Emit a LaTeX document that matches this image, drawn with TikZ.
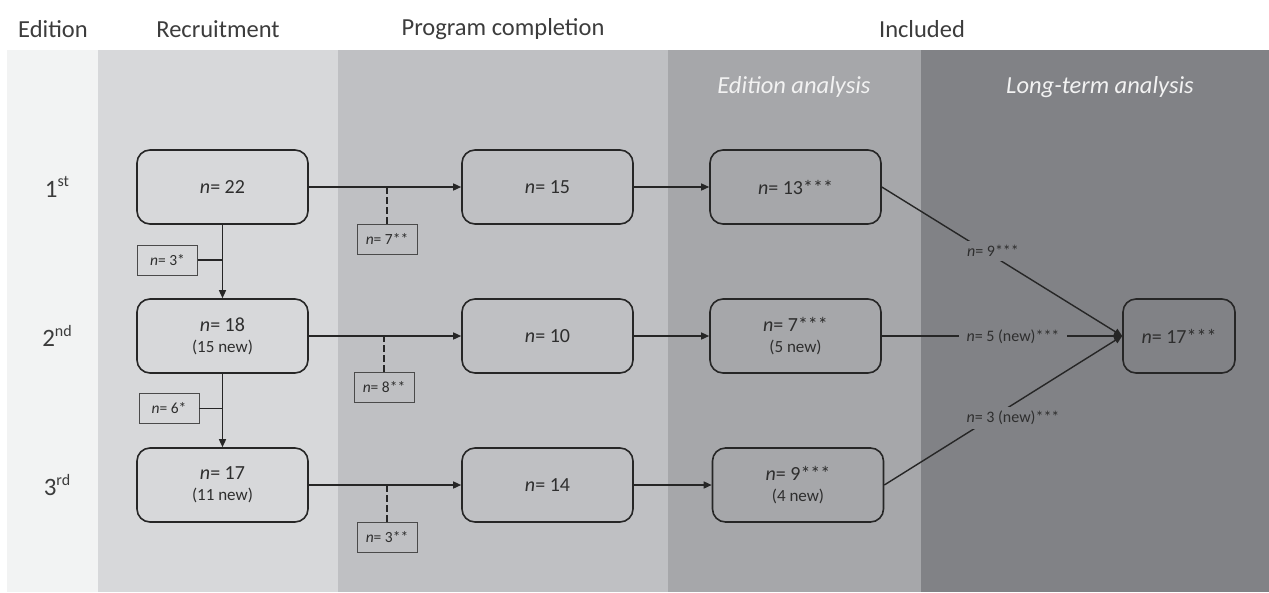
\documentclass[tikz,border=0pt]{standalone}
\usepackage{fontspec}
\setmainfont{Carlito}
\usetikzlibrary{arrows.meta}
\definecolor{pA}{HTML}{F2F3F3}
\definecolor{pB}{HTML}{D7D8DA}
\definecolor{pC}{HTML}{BFC0C3}
\definecolor{pD}{HTML}{A6A7AA}
\definecolor{pE}{HTML}{818286}
\definecolor{txt}{HTML}{2E2E2E}
\definecolor{hdr}{HTML}{3C3C3C}
\definecolor{linec}{HTML}{262626}
\definecolor{thin}{HTML}{4A4A4A}
\newcommand{\supx}[1]{\raisebox{0.42em}{\fontsize{16}{16}\selectfont #1}}
\begin{document}
\begin{tikzpicture}[x=1pt,y=-1pt,
  bigbox/.style={draw=linec, line width=1.6pt, rounded corners=13pt, minimum width=171pt, minimum height=74pt, align=center, text=txt, inner sep=0pt, font=\fontsize{20}{21}\selectfont},
  endbox/.style={bigbox, minimum width=112pt},
  smallbox/.style={draw=thin, line width=0.9pt, minimum width=60pt, minimum height=30pt, inner sep=0pt, text=txt, font=\fontsize{15.5}{17}\selectfont},
  hdrtext/.style={text=hdr, font=\fontsize{24.5}{26}\selectfont},
  ithdr/.style={text=white!95!black, font=\fontsize{24.5}{26}\selectfont\itshape},
  rowlab/.style={text=hdr, font=\fontsize{25}{27}\selectfont},
  ltlab/.style={fill=pE, text=txt, inner xsep=5pt, inner ysep=4pt, font=\fontsize{16}{17}\selectfont},
  conn/.style={draw=linec, line width=1.4pt},
  arr/.style={conn, -{Triangle[length=8pt,width=7pt]}},
  dashline/.style={draw=linec, line width=1.2pt, dash pattern=on 7pt off 3pt},
  tick/.style={draw=linec, line width=1.2pt}
]
\useasboundingbox (0,0) rectangle (1269,592);
\fill[white] (0,0) rectangle (1269,592);
% panels
\fill[pA] (7,50) rectangle (98,592);
\fill[pB] (98,50) rectangle (338,592);
\fill[pC] (338,50) rectangle (668,592);
\fill[pD] (668,50) rectangle (921,592);
\fill[pE] (921,50) rectangle (1269,592);
% headers
\node[hdrtext] (hEd) at (53,29) {Edition};
\node[hdrtext] (hRec) at (218,29) {Recruitment};
\node[hdrtext] (hProg) at (503,29) {Program completion};
\node[hdrtext] (hInc) at (922,29) {Included};
\node[ithdr] (hEA) at (794,87) {Edition analysis};
\node[ithdr] (hLT) at (1100,87) {Long-term analysis};
% row labels
\node[rowlab] (e1) at (57,187) {1\supx{st}};
\node[rowlab] (e2) at (57,336) {2\supx{nd}};
\node[rowlab] (e3) at (57,485) {3\supx{rd}};
% recruitment
\node[bigbox] (r1) at (222.5,187) {\textit{n}= 22};
\node[bigbox] (r2) at (222.5,336) {\textit{n}= 18\\{\fontsize{17}{21}\selectfont (15 new)}};
\node[bigbox] (r3) at (222.5,485) {\textit{n}= 17\\{\fontsize{17}{21}\selectfont (11 new)}};
% program completion
\node[bigbox] (p1) at (547.5,187) {\textit{n}= 15};
\node[bigbox] (p2) at (547.5,336) {\textit{n}= 10};
\node[bigbox] (p3) at (547.5,485) {\textit{n}= 14};
% edition analysis
\node[bigbox] (a1) at (795.5,187) {\textit{n}= 13***};
\node[bigbox] (a2) at (795.5,336) {\textit{n}= 7***\\{\fontsize{17}{21}\selectfont (5 new)}};
\node[bigbox] (a3) at (798,485) {\textit{n}= 9***\\{\fontsize{17}{21}\selectfont (4 new)}};
% long-term
\node[endbox] (lt) at (1179,336) {\textit{n}= 17***};
% drop-out boxes
\node[smallbox] (s1) at (167.5,260) {\textit{n}= 3*};
\node[smallbox] (s2) at (169,408.5) {\textit{n}= 6*};
\node[smallbox] (d1) at (387,239) {\textit{n}= 7**};
\node[smallbox] (d2) at (384,387) {\textit{n}= 8**};
\node[smallbox] (d3) at (387,537) {\textit{n}= 3**};
% vertical arrows between editions
\draw[arr] (r1.south) -- (r2.north);
\draw[arr] (r2.south) -- (r3.north);
\draw[tick] (s1.east) -- (s1.east -| r1.south);
\draw[tick] (s2.east) -- (s2.east -| r2.south);
% recruitment -> program
\draw[arr] (r1.east) -- (p1.west);
\draw[arr] (r2.east) -- (p2.west);
\draw[arr] (r3.east) -- (p3.west);
\draw[dashline] (d1.north) -- (d1.north |- r1.east);
\draw[dashline] (d2.north) -- (d2.north |- r2.east);
\draw[dashline] (d3.north) -- (d3.north |- r3.east);
% program -> edition analysis
\draw[arr] (p1.east) -- (a1.west);
\draw[arr] (p2.east) -- (a2.west);
\draw[arr] (p3.east) -- (a3.west);
% edition analysis -> long-term
\draw[arr] (a1.east) -- (lt.west);
\draw[arr] (a2.east) -- (lt.west);
\draw[arr] (a3.east) -- (lt.west);
\node[ltlab] (l1) at (993,251) {\textit{n}= 9***};
\node[ltlab, inner xsep=8pt] (l2) at (1013,337) {\textit{n}= 5 (new)***};
\node[ltlab] (l3) at (1013,418) {\textit{n}= 3 (new)***};
\end{tikzpicture}
\end{document}
